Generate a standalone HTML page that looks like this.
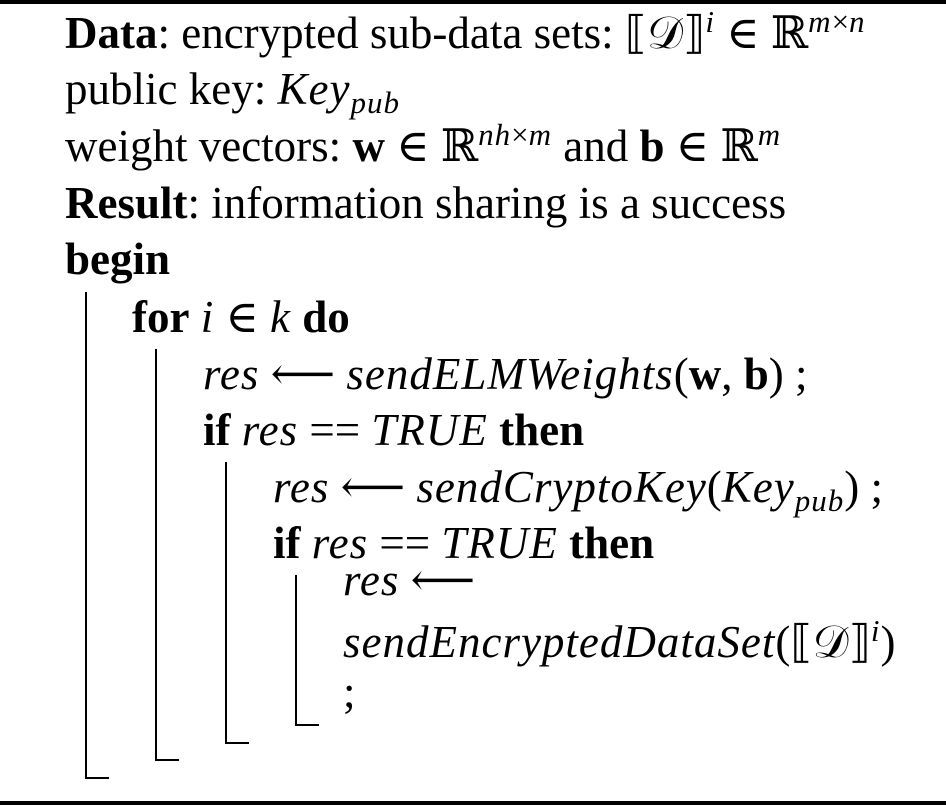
<!DOCTYPE html>
<html><head><meta charset="utf-8"><style>
body{margin:0;width:946px;height:806px;background:#fff;position:relative;overflow:hidden;font-family:"Liberation Serif","DejaVu Serif",serif;font-size:45px;color:#000}
.l{position:absolute;white-space:nowrap;line-height:40px}
i{font-style:italic;letter-spacing:1px}
sub{font-size:31px;vertical-align:-9px;line-height:0}
sup{font-size:31px;vertical-align:16px;line-height:0}
.r{position:absolute;background:#000}
</style></head><body>
<div class="r" style="left:0;top:0;width:946px;height:4px"></div>
<div class="r" style="left:0;top:801px;width:946px;height:4px"></div>

<div class="l" style="left:65px;top:13px"><b>Data</b>: encrypted sub-data sets: ⟦𝒟⟧<sup><i>i</i></sup> ∈ ℝ<sup><i>m</i>×<i>n</i></sup></div>
<div class="l" style="left:65px;top:69px">public key: <i>Key</i><sub><i>pub</i></sub></div>
<div class="l" style="left:65px;top:126px">weight vectors: <b>w</b> ∈ ℝ<sup><i>nh</i>×<i>m</i></sup> and <b>b</b> ∈ ℝ<sup><i>m</i></sup></div>
<div class="l" style="left:65px;top:183px"><b>Result</b>: information sharing is a success</div>
<div class="l" style="left:65px;top:239px"><b>begin</b></div>
<div class="l" style="left:132px;top:297px"><b>for</b> <i>i</i> ∈ <i>k</i> <b>do</b></div>
<div class="l" style="left:203px;top:354px"><i>res</i> ⟵ <i>sendELMWeights</i>(<b>w</b>, <b>b</b>) ;</div>
<div class="l" style="left:203px;top:410px"><b>if</b> <i>res</i> == <i>TRUE</i> <b>then</b></div>
<div class="l" style="left:273px;top:467px"><i>res</i> ⟵ <i>sendCryptoKey</i>(<i>Key</i><sub><i>pub</i></sub>) ;</div>
<div class="l" style="left:273px;top:523px"><b>if</b> <i>res</i> == <i>TRUE</i> <b>then</b></div>
<div class="l" style="left:343px;top:560px"><i>res</i> ⟵</div>
<div class="l" style="left:343px;top:622px"><i>sendEncryptedDataSet</i>(⟦𝒟⟧<sup><i>i</i></sup>)</div>
<div class="l" style="left:343px;top:672px">;</div>

<div class="r" style="left:85px;top:292px;width:2px;height:487px"></div>
<div class="r" style="left:85px;top:777px;width:24px;height:2px"></div>
<div class="r" style="left:155px;top:349px;width:2px;height:412px"></div>
<div class="r" style="left:155px;top:759px;width:24px;height:2px"></div>
<div class="r" style="left:225px;top:462px;width:2px;height:282px"></div>
<div class="r" style="left:225px;top:742px;width:24px;height:2px"></div>
<div class="r" style="left:295px;top:575px;width:2px;height:151px"></div>
<div class="r" style="left:295px;top:724px;width:24px;height:2px"></div>
</body></html>
